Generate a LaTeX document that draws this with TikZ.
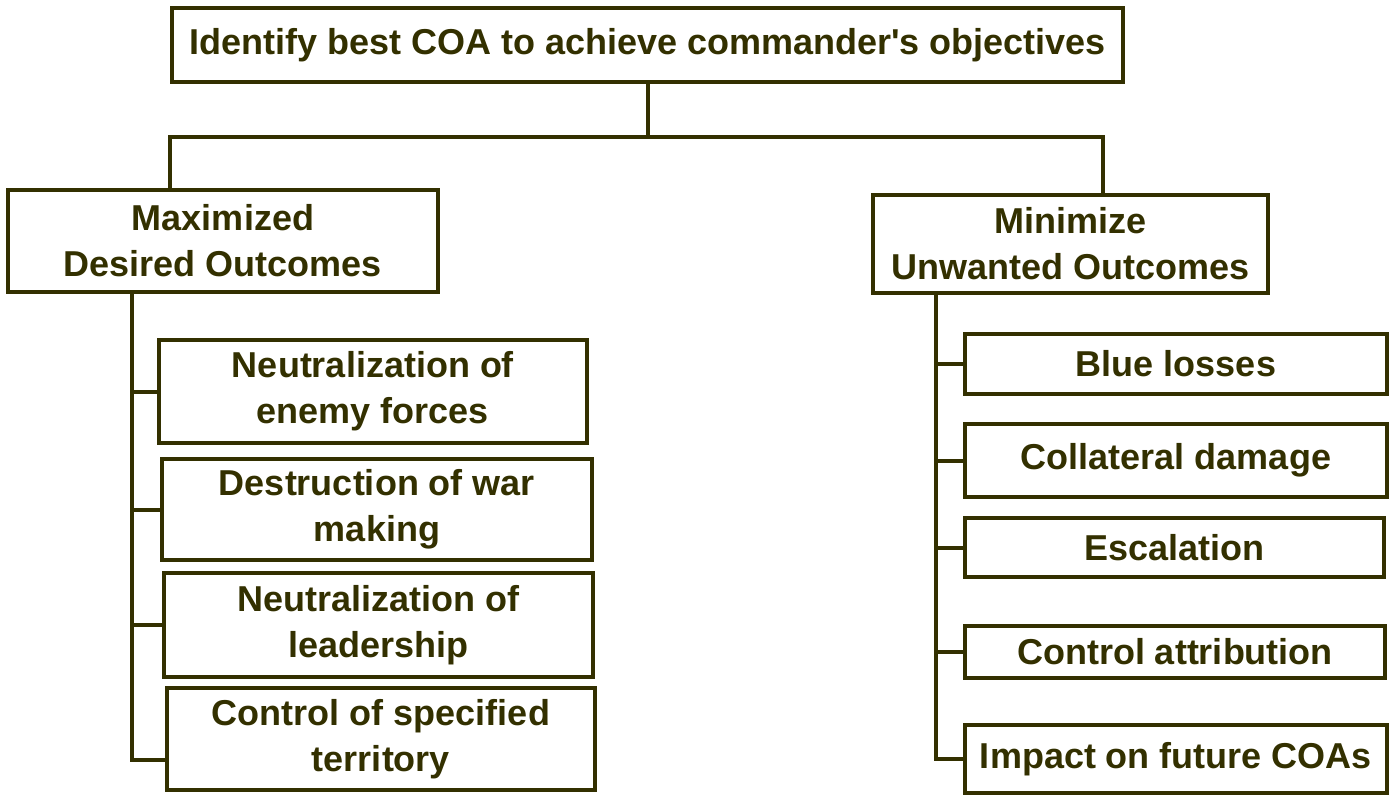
\documentclass[tikz,border=0pt]{standalone}
\usepackage{fontspec}
\setmainfont{Liberation Sans}
\definecolor{olivedk}{RGB}{51,48,0}
\begin{document}
\begin{tikzpicture}[x=1pt,y=-1pt,
  box/.style={draw=olivedk, line width=4pt, text=olivedk, inner sep=0pt, align=center,
    font=\bfseries\fontsize{36}{46}\selectfont},
  conn/.style={draw=olivedk, line width=4pt}]
\useasboundingbox (0,0) rectangle (1395,795);
\newcommand{\bx}[6]{\node[box, minimum width={#3-#1}, minimum height={#4-#2}] (#5) at ({(#1+#3)/2},{(#2+#4)/2}) {#6};}
\bx{172}{8}{1123}{82}{top}{Identify best COA to achieve commander\textquotesingle s objectives}
\bx{8}{190}{438}{292}{left}{Maximized\\Desired Outcomes}
\bx{873}{195}{1268}{293}{right}{Minimize\\Unwanted Outcomes}
\bx{159}{340}{587}{443}{l1}{Neutralization of\\enemy forces}
\bx{162}{459}{592}{560}{l2}{Destruction of war\\making}
\bx{164}{573}{593}{677}{l3}{Neutralization of\\leadership}
\bx{167}{688}{595}{790}{l4}{Control of specified\\territory}
\bx{965}{334}{1387}{394}{r1}{Blue losses}
\bx{965}{424}{1387}{497}{r2}{Collateral damage}
\bx{965}{518}{1384}{577}{r3}{Escalation}
\bx{965}{626}{1385}{678}{r4}{Control attribution}
\bx{965}{725}{1387}{793}{r5}{Impact on future COAs}
\coordinate (jL) at (170,137);
\coordinate (jR) at (1103,137);
\coordinate (sL) at (132,0);
\coordinate (sR) at (936,0);
\coordinate (l4b) at ([yshift=-21pt]l4.west);
\draw[conn] (top.south) -- (top.south |- jL);
\draw[conn] (jL |- left.north) -- (jL) -- (jR) -- (jR |- right.north);
\draw[conn] (sL |- left.south) -- (sL |- l4b) -- (l4b);
\foreach \c in {l1,l2,l3} \draw[conn] (sL |- \c.west) -- (\c.west);
\draw[conn] (sR |- right.south) -- (sR |- r5.west) -- (r5.west);
\foreach \c in {r1,r2,r3,r4} \draw[conn] (sR |- \c.west) -- (\c.west);
\end{tikzpicture}
\end{document}
